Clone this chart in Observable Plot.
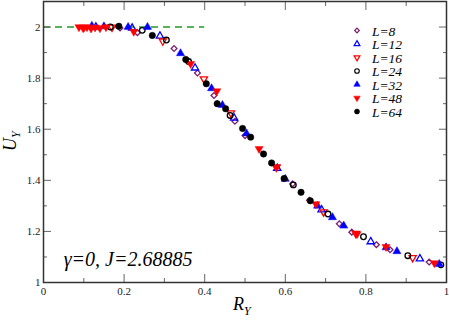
<!DOCTYPE html>
<html><head><meta charset="utf-8">
<script src="https://cdn.jsdelivr.net/npm/d3@7"></script>
<script src="https://cdn.jsdelivr.net/npm/@observablehq/plot@0.6"></script>
<style>body{margin:0;background:#fff} svg{display:block}</style>
</head><body><div id="chart"></div>
<script>
// ---- data ----
const seriesNames = ["L=8", "L=12", "L=16", "L=24", "L=32", "L=48", "L=64"];

const L8_R = [0.19, 0.233, 0.324, 0.382, 0.423, 0.475, 0.50, 0.618, 0.66, 0.734, 0.765, 0.826, 0.86, 0.957];
const L8_U = [1.996, 1.978, 1.916, 1.82, 1.732, 1.631, 1.575, 1.386, 1.322, 1.23, 1.197, 1.148, 1.128, 1.08];

const L12_R = [0.13, 0.22, 0.289, 0.376, 0.473, 0.58, 0.69, 0.812, 0.934];
const L12_U = [2.0, 1.996, 1.965, 1.84, 1.644, 1.447, 1.285, 1.16, 1.093];

const L16_R = [0.10, 0.17, 0.296, 0.398, 0.465, 0.578, 0.695, 0.775, 0.916];
const L16_U = [1.998, 1.999, 1.945, 1.797, 1.664, 1.452, 1.276, 1.192, 1.097];

const L24_R = [0.166, 0.245, 0.305, 0.36, 0.463, 0.62, 0.706, 0.794, 0.904, 0.986];
const L24_U = [2.0, 1.987, 1.949, 1.865, 1.654, 1.382, 1.268, 1.179, 1.105, 1.069];

const L32_R = [0.12, 0.15, 0.21, 0.258, 0.34, 0.417, 0.444, 0.504, 0.60, 0.68, 0.717, 0.745, 0.85, 0.877, 0.982];
const L32_U = [2.004, 2.002, 2.0, 2.0, 1.897, 1.76, 1.694, 1.583, 1.405, 1.30, 1.255, 1.222, 1.137, 1.122, 1.072];

const L48_R = [0.088, 0.098, 0.108, 0.118, 0.128, 0.14, 0.155, 0.224, 0.365, 0.43, 0.535, 0.578, 0.676, 0.778, 0.85, 0.97];
const L48_U = [2.0, 1.997, 2.0, 1.995, 1.999, 1.996, 2.0, 1.982, 1.856, 1.749, 1.523, 1.45, 1.307, 1.19, 1.14, 1.076];

const L64_R = [0.187, 0.27, 0.353, 0.404, 0.431, 0.452, 0.494, 0.514, 0.546, 0.566, 0.597, 0.639, 0.662];
const L64_U = [2.003, 1.967, 1.873, 1.778, 1.70, 1.68, 1.603, 1.569, 1.503, 1.468, 1.407, 1.353, 1.32];
const L64_err = [0.003, 0.004, 0.004, 0.005, 0.012, 0.005, 0.005, 0.005, 0.004, 0.004, 0.004, 0.004, 0.004];

const xMajor = [0, 0.2, 0.4, 0.6, 0.8, 1];
const xMinor = [0.1, 0.3, 0.5, 0.7, 0.9];
const yMajor = [1, 1.2, 1.4, 1.6, 1.8, 2];
const yMinor = [1.1, 1.3, 1.5, 1.7, 1.9];

const criticalU = 2;
const criticalRmax = 0.4;
const annotation = "γ=0, J=2.68885";

// ---- styles ----
const sqrt3 = Math.sqrt(3);
const triangleDown = {
  draw(context, size) {
    const y = -Math.sqrt(size / (sqrt3 * 3));
    context.moveTo(0, -y * 2);
    context.lineTo(-sqrt3 * y, y);
    context.lineTo(sqrt3 * y, y);
    context.closePath();
  }
};
const purple = "#7a1f6e", blue = "#0000ff", red = "#ff0000", black = "#000000", green = "#1f9a1f";
const seriesR = [L8_R, L12_R, L16_R, L24_R, L32_R, L48_R, L64_R];
const seriesU = [L8_U, L12_U, L16_U, L24_U, L32_U, L48_U, L64_U];
const seriesSymbol = ["diamond2", "triangle", triangleDown, "circle", "triangle", triangleDown, "circle"];
const seriesColor = [purple, blue, red, black, blue, red, black];
const seriesFilled = [false, false, false, false, true, true, true];
const seriesSize = [2.6, 2.7, 2.7, 2.8, 3.0, 3.0, 3.2];

const series = seriesNames.map((name, i) => seriesR[i].map((r, j) => ({name, R: r, U: seriesU[i][j]})));
const errData = L64_R.map((r, j) => ({R: r, lo: L64_U[j] - L64_err[j], hi: L64_U[j] + L64_err[j]}));

const fmt = d3.format("~");
const tickColor = "#666";
const serif = "'Liberation Serif', 'Times New Roman', Times, 'DejaVu Serif', serif";

const dotMarks = series.map((data, i) => Plot.dot(data, {
  x: "R", y: "U", symbol: seriesSymbol[i], r: seriesSize[i],
  fill: seriesFilled[i] ? seriesColor[i] : "none",
  stroke: seriesColor[i],
  strokeWidth: seriesFilled[i] ? 0.5 : 1.3
}));

const plot = Plot.plot({
  width: 449, height: 320,
  marginLeft: 43, marginRight: 3, marginTop: 1, marginBottom: 38,
  style: {fontFamily: serif, fontSize: "11px", color: "#222", background: "#fff"},
  x: {domain: [0, 1], label: null},
  y: {domain: [1, 2.1], label: null},
  marks: [
    Plot.ruleY([criticalU], {x1: 0, x2: criticalRmax, stroke: green, strokeWidth: 1.6, strokeDasharray: "7,5"}),
    ...dotMarks,
    Plot.ruleX(errData, {x: "R", y1: "lo", y2: "hi", stroke: black, strokeWidth: 1}),
    // inward ticks
    Plot.axisX(xMajor, {anchor: "bottom", tickSize: 8, dy: -8, fill: "none", stroke: tickColor, label: null}),
    Plot.axisX(xMinor, {anchor: "bottom", tickSize: 4, dy: -4, fill: "none", stroke: tickColor, label: null}),
    Plot.axisX(xMajor, {anchor: "top", tickSize: 8, dy: 8, fill: "none", stroke: tickColor, label: null}),
    Plot.axisX(xMinor, {anchor: "top", tickSize: 4, dy: 4, fill: "none", stroke: tickColor, label: null}),
    Plot.axisY(yMajor, {anchor: "left", tickSize: 8, dx: 8, fill: "none", stroke: tickColor, label: null}),
    Plot.axisY(yMinor, {anchor: "left", tickSize: 4, dx: 4, fill: "none", stroke: tickColor, label: null}),
    Plot.axisY(yMajor, {anchor: "right", tickSize: 8, dx: -8, fill: "none", stroke: tickColor, label: null}),
    Plot.axisY(yMinor, {anchor: "right", tickSize: 4, dx: -4, fill: "none", stroke: tickColor, label: null}),
    // labels
    Plot.axisX(xMajor, {anchor: "bottom", tickSize: 0, tickPadding: 5, tickFormat: fmt, label: null, fill: "#222"}),
    Plot.axisY(yMajor, {anchor: "left", tickSize: 0, tickPadding: 3, tickFormat: fmt, label: null, fill: "#222"}),
    Plot.text([annotation], {x: 0.05, y: 1.09, text: d => d, textAnchor: "start", fontSize: 20, fontStyle: "italic", fill: "#000"}),
    Plot.frame({stroke: "#333", strokeWidth: 1.5})
  ]
});

document.getElementById("chart").appendChild(plot);

// axis titles and legend (SVG text)
const svg = d3.select(plot);

const yt = svg.append("text")
  .attr("transform", "translate(16,151) rotate(-90)")
  .attr("text-anchor", "start")
  .attr("font-family", serif).attr("font-style", "italic").attr("font-size", 18).attr("fill", "#000");
yt.append("tspan").text("U");
yt.append("tspan").attr("font-size", 12).attr("dy", 4).text("Y");

const xt = svg.append("text")
  .attr("x", 233).attr("y", 310)
  .attr("text-anchor", "start")
  .attr("font-family", serif).attr("font-style", "italic").attr("font-size", 18).attr("fill", "#000");
xt.append("tspan").text("R");
xt.append("tspan").attr("font-size", 12).attr("dy", 5).text("Y");

const legendX = 357, legendTextX = 372, legendY0 = 30.5, legendDY = 13.5;
const lg = svg.append("g").attr("text-anchor", "start");
const symbolTypes = {diamond2: d3.symbolDiamond2, triangle: d3.symbolTriangle, circle: d3.symbolCircle};
seriesNames.forEach((name, i) => {
  const cy = legendY0 + i * legendDY;
  const symType = typeof seriesSymbol[i] === "string" ? symbolTypes[seriesSymbol[i]] : seriesSymbol[i];
  const rr = seriesSize[i] * 0.8;
  lg.append("path")
    .attr("transform", `translate(${legendX},${cy})`)
    .attr("d", d3.symbol(symType, Math.PI * rr * rr)())
    .attr("fill", seriesFilled[i] ? seriesColor[i] : "none")
    .attr("stroke", seriesColor[i])
    .attr("stroke-width", seriesFilled[i] ? 0.5 : 1.2);
  lg.append("text").attr("x", legendTextX).attr("y", cy + 5)
    .attr("font-family", serif).attr("font-style", "italic").attr("font-size", 13.5).attr("fill", "#000")
    .text(name);
});
</script>
</body></html>
